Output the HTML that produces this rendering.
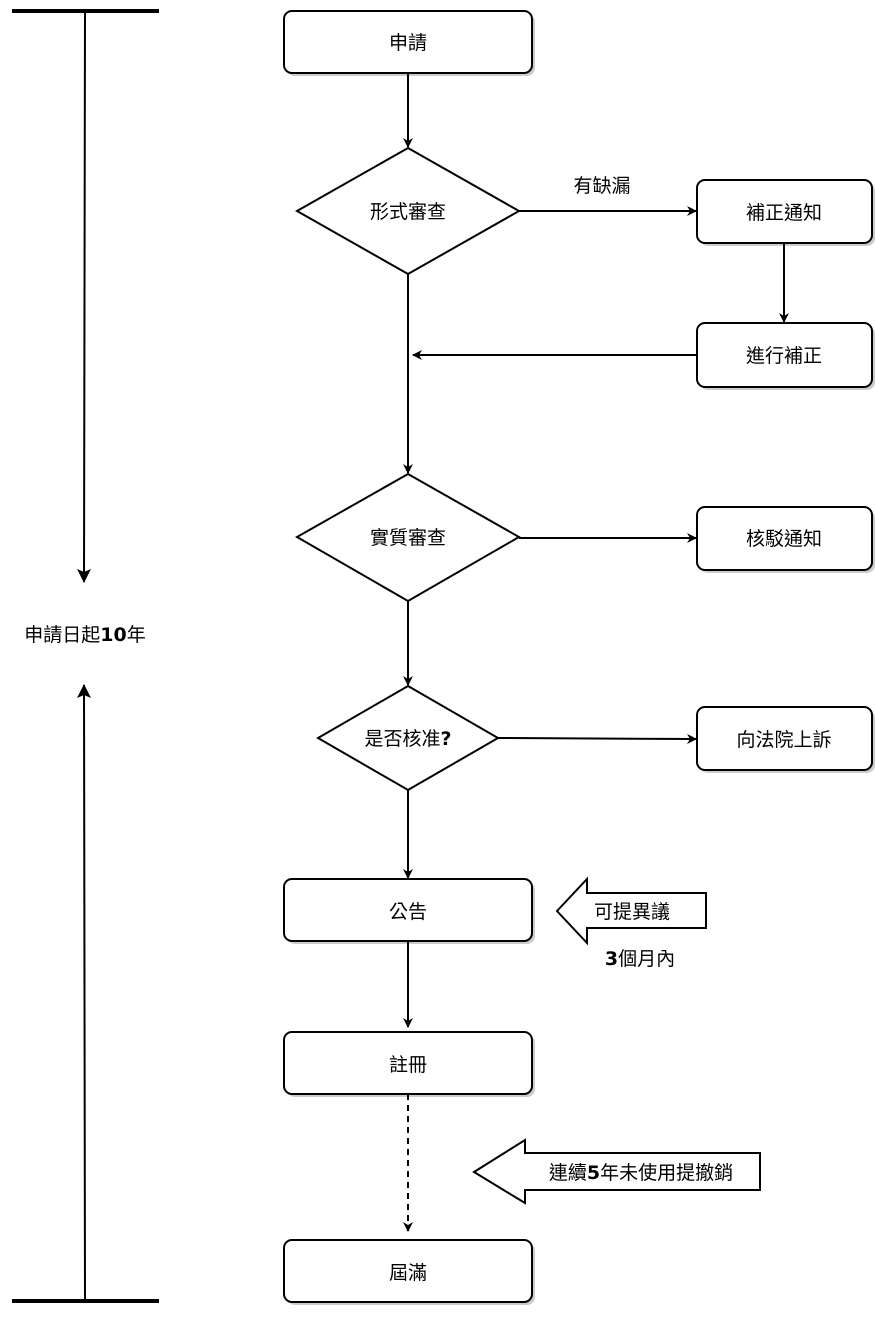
<!DOCTYPE html>
<html><head><meta charset="utf-8"><style>
html,body{margin:0;padding:0;background:#fff;}
svg text{font-family:"DejaVu Sans","Liberation Sans","Noto Sans CJK TC",sans-serif;font-size:19px;fill:#000;}
</style></head><body>
<svg width="875" height="1313" viewBox="0 0 875 1313" xmlns="http://www.w3.org/2000/svg">
<defs>
<marker id="a" markerWidth="10" markerHeight="10" refX="9" refY="5" orient="auto" markerUnits="userSpaceOnUse"><path d="M0,0 L10,5 L0,10 L3,5 Z" fill="#000"/></marker>
<marker id="b" markerWidth="14" markerHeight="14" refX="13" refY="7" orient="auto" markerUnits="userSpaceOnUse"><path d="M0,0 L14,7 L0,14 L3,7 Z" fill="#000"/></marker>
</defs>
<g stroke="#000" stroke-width="2" fill="none">
<!-- timeline -->
<line x1="12" y1="11" x2="159" y2="11" stroke-width="4"/>
<line x1="12" y1="1301" x2="159" y2="1301" stroke-width="4"/>
<line x1="85" y1="11" x2="84" y2="582" marker-end="url(#b)"/>
<line x1="85" y1="1301" x2="84" y2="685" marker-end="url(#b)"/>
</g>
<text x="85" y="641" text-anchor="middle">申請日起<tspan font-weight="bold">10</tspan>年</text>

<g stroke="#000" stroke-width="2">
<!-- shadows -->
<g fill="#ccc" stroke="none">
<rect x="287" y="14" width="248" height="62" rx="8"/>
<rect x="700" y="183" width="175" height="63" rx="8"/>
<rect x="700" y="326" width="175" height="64" rx="8"/>
<rect x="700" y="510" width="175" height="63" rx="8"/>
<rect x="700" y="710" width="175" height="63" rx="8"/>
<rect x="287" y="882" width="248" height="62" rx="8"/>
<rect x="287" y="1035" width="248" height="62" rx="8"/>
<rect x="287" y="1243" width="248" height="62" rx="8"/>
</g>
<g fill="#fff">
<rect x="284" y="11" width="248" height="62" rx="8"/>
<rect x="697" y="180" width="175" height="63" rx="8"/>
<rect x="697" y="323" width="175" height="64" rx="8"/>
<rect x="697" y="507" width="175" height="63" rx="8"/>
<rect x="697" y="707" width="175" height="63" rx="8"/>
<rect x="284" y="879" width="248" height="62" rx="8"/>
<rect x="284" y="1032" width="248" height="62" rx="8"/>
<rect x="284" y="1240" width="248" height="62" rx="8"/>
<polygon points="408,148 519,211 408,274 297,211"/>
<polygon points="408,474 519,537 408,601 297,537"/>
<polygon points="408,686 498,738 408,790 318,738"/>
<polygon points="557,911 587,879 587,893 706,893 706,928 587,928 587,943"/>
<polygon points="474,1172 525,1140 525,1153 760,1153 760,1190 525,1190 525,1203"/>
</g>
<g fill="none">
<line x1="408" y1="73" x2="408" y2="147" marker-end="url(#a)"/>
<line x1="519" y1="211" x2="696" y2="211" marker-end="url(#a)"/>
<line x1="784" y1="243" x2="784" y2="322" marker-end="url(#a)"/>
<line x1="697" y1="355" x2="413" y2="355" marker-end="url(#a)"/>
<line x1="408" y1="274" x2="408" y2="473" marker-end="url(#a)"/>
<line x1="519" y1="538" x2="696" y2="538" marker-end="url(#a)"/>
<line x1="408" y1="601" x2="408" y2="685" marker-end="url(#a)"/>
<line x1="498" y1="738" x2="696" y2="739" marker-end="url(#a)"/>
<line x1="408" y1="790" x2="408" y2="878" marker-end="url(#a)"/>
<line x1="408" y1="941" x2="408" y2="1027" marker-end="url(#a)"/>
<line x1="408" y1="1094" x2="408" y2="1231" stroke-dasharray="6,5" marker-end="url(#a)"/>
</g>
</g>
<g text-anchor="middle">
<text x="408" y="49">申請</text>
<text x="408" y="218">形式審查</text>
<text x="602" y="192">有缺漏</text>
<text x="784" y="219">補正通知</text>
<text x="784" y="362">進行補正</text>
<text x="408" y="544">實質審查</text>
<text x="784" y="545">核駁通知</text>
<text x="408" y="745">是否核准<tspan font-weight="bold">?</tspan></text>
<text x="784" y="746">向法院上訴</text>
<text x="408" y="918">公告</text>
<text x="632" y="918">可提異議</text>
<text x="640" y="965"><tspan font-weight="bold">3</tspan>個月內</text>
<text x="408" y="1071">註冊</text>
<text x="641" y="1179">連續<tspan font-weight="bold">5</tspan>年未使用提撤銷</text>
<text x="408" y="1279">屆滿</text>
</g>
</svg>
</body></html>
